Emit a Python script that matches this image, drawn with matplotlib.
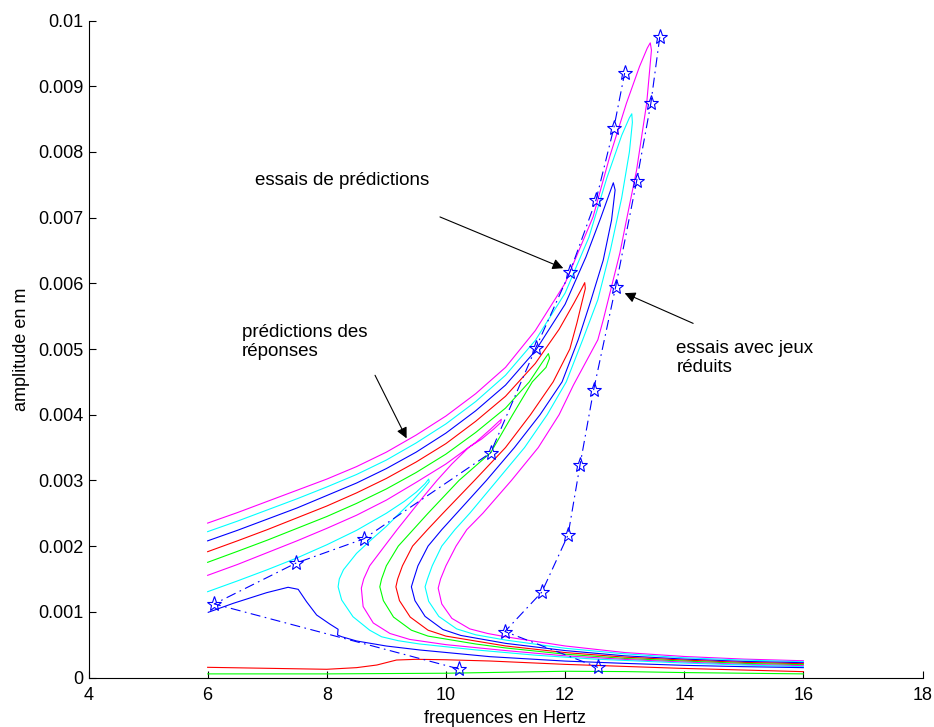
import numpy as np
import matplotlib
matplotlib.use("Agg")
import matplotlib.pyplot as plt

plt.rcParams['font.family'] = ['Liberation Sans', 'DejaVu Sans']

# amplitudes read in mm, converted to m when drawn
# each curve: upper branch -> peak -> unstable branch -> nose -> lower branch
c1_f = [6.0, 6.5, 7.0, 7.5, 8.0, 8.5, 9.0, 9.5, 10.0, 10.5, 11.0, 11.5, 12.0, 12.47, 12.75, 13.03, 13.25, 13.38, 13.43,
        13.45, 13.37, 13.20, 13.03, 12.92, 12.78, 12.64, 12.55, 12.14, 11.90, 11.55, 11.10, 10.62, 10.35, 10.17, 10.0, 9.91, 9.87,
        9.93, 10.1, 10.4, 10.7, 11.0, 12.0, 13.0, 14.0, 15.0, 16.0]
c1_a = [2.35, 2.51, 2.68, 2.85, 3.02, 3.21, 3.43, 3.69, 3.98, 4.32, 4.72, 5.28, 6.00, 7.01, 7.93, 8.74, 9.30, 9.58, 9.66,
        9.55, 8.74, 7.72, 6.96, 6.46, 5.95, 5.44, 5.14, 4.45, 4.0, 3.5, 3.0, 2.5, 2.25, 2.0, 1.7, 1.5, 1.36,
        1.12, 0.90, 0.74, 0.67, 0.62, 0.48, 0.38, 0.32, 0.28, 0.255]

c2_f = [6.0, 6.5, 7.0, 7.5, 8.0, 8.5, 9.0, 9.5, 10.0, 10.5, 11.0, 11.5, 12.0, 12.4, 12.7, 12.95, 13.08, 13.12,
        13.13, 13.08, 12.95, 12.76, 12.55, 12.30, 12.02, 11.70, 11.32, 10.86, 10.40, 10.15, 9.93, 9.77, 9.69, 9.65,
        9.71, 9.88, 10.18, 10.5, 11.0, 12.0, 13.0, 14.0, 15.0, 16.0]
c2_a = [2.22, 2.38, 2.55, 2.72, 2.90, 3.09, 3.31, 3.57, 3.86, 4.20, 4.60, 5.13, 5.85, 6.70, 7.60, 8.25, 8.52, 8.58,
        8.45, 8.0, 7.3, 6.5, 5.75, 5.15, 4.5, 4.0, 3.5, 3.0, 2.5, 2.25, 2.0, 1.7, 1.5, 1.38,
        1.16, 0.93, 0.74, 0.65, 0.57, 0.445, 0.36, 0.30, 0.265, 0.24]

c3_f = [6.0, 6.5, 7.0, 7.5, 8.0, 8.5, 9.0, 9.5, 10.0, 10.5, 11.0, 11.5, 12.0, 12.35, 12.6, 12.75, 12.81,
        12.84, 12.78, 12.64, 12.42, 12.22, 11.95, 11.58, 11.15, 10.68, 10.18, 9.93, 9.70, 9.53, 9.46, 9.42,
        9.48, 9.65, 9.95, 10.25, 11.0, 12.0, 13.0, 14.0, 15.0, 16.0]
c3_a = [2.08, 2.24, 2.41, 2.58, 2.77, 2.96, 3.18, 3.43, 3.72, 4.06, 4.45, 4.97, 5.68, 6.40, 7.0, 7.38, 7.53,
        7.42, 6.96, 6.35, 5.70, 5.14, 4.5, 4.0, 3.5, 3.0, 2.5, 2.25, 2.0, 1.7, 1.5, 1.38,
        1.17, 0.93, 0.73, 0.64, 0.52, 0.41, 0.33, 0.28, 0.245, 0.225]

c4_f = [6.0, 6.5, 7.0, 7.5, 8.0, 8.5, 9.0, 9.5, 10.0, 10.5, 11.0, 11.5, 11.9, 12.15, 12.28, 12.33,
        12.34, 12.28, 12.20, 12.08, 11.80, 11.42, 11.0, 10.48, 9.95, 9.69, 9.44, 9.27, 9.19, 9.16,
        9.22, 9.40, 9.70, 10.0, 11.0, 12.0, 13.0, 14.0, 15.0, 16.0]
c4_a = [1.915, 2.08, 2.25, 2.43, 2.61, 2.81, 3.03, 3.28, 3.56, 3.90, 4.28, 4.78, 5.30, 5.70, 5.92, 6.01,
        5.92, 5.70, 5.40, 5.0, 4.5, 4.0, 3.5, 3.0, 2.5, 2.25, 2.0, 1.7, 1.5, 1.38,
        1.17, 0.92, 0.72, 0.63, 0.48, 0.38, 0.31, 0.265, 0.23, 0.21]

c5_f = [6.0, 6.5, 7.0, 7.5, 8.0, 8.5, 9.0, 9.5, 10.0, 10.5, 11.0, 11.4, 11.62, 11.72,
        11.74, 11.68, 11.45, 11.12, 10.75, 10.22, 9.70, 9.45, 9.20, 9.00, 8.92, 8.89,
        8.95, 9.12, 9.42, 9.70, 10.5, 11.0, 12.0, 13.0, 14.0, 15.0, 16.0]
c5_a = [1.753, 1.92, 2.09, 2.27, 2.45, 2.65, 2.87, 3.12, 3.40, 3.73, 4.10, 4.50, 4.80, 4.93,
        4.86, 4.72, 4.5, 4.0, 3.42, 3.0, 2.5, 2.25, 2.0, 1.7, 1.5, 1.38,
        1.17, 0.92, 0.72, 0.63, 0.51, 0.45, 0.355, 0.29, 0.25, 0.215, 0.195]

c6_f = [6.0, 6.5, 7.0, 7.5, 8.0, 8.5, 9.0, 9.5, 10.0, 10.5, 10.75, 10.88, 10.93,
        10.92, 10.80, 10.60, 10.38, 10.10, 9.85, 9.62, 9.40, 9.18, 8.97, 8.72, 8.62, 8.58,
        8.61, 8.78, 9.06, 9.39, 10.0, 11.0, 12.0, 13.0, 14.0, 15.0, 16.0]
c6_a = [1.555, 1.72, 1.90, 2.08, 2.27, 2.47, 2.70, 2.97, 3.25, 3.58, 3.78, 3.89, 3.93,
        3.88, 3.78, 3.63, 3.5, 3.25, 3.0, 2.75, 2.5, 2.25, 2.0, 1.7, 1.5, 1.36,
        1.08, 0.83, 0.67, 0.58, 0.50, 0.41, 0.33, 0.275, 0.235, 0.20, 0.18]

c7_f = [6.0, 6.5, 7.0, 7.5, 8.0, 8.5, 9.0, 9.3, 9.5, 9.65, 9.71,
        9.72, 9.62, 9.45, 9.22, 9.0, 8.75, 8.5, 8.28, 8.21, 8.19,
        8.25, 8.44, 8.72, 8.92, 9.2, 9.56, 10.5, 11.5, 12.5, 13.0, 14.0, 15.0, 16.0]
c7_a = [1.306, 1.47, 1.64, 1.82, 2.02, 2.24, 2.50, 2.68, 2.82, 2.95, 3.02,
        2.98, 2.87, 2.70, 2.50, 2.30, 2.10, 1.89, 1.64, 1.50, 1.38,
        1.18, 0.925, 0.72, 0.62, 0.56, 0.51, 0.42, 0.34, 0.28, 0.26, 0.22, 0.19, 0.165]

c8_f = [6.01, 6.43, 6.99, 7.35, 7.52, 7.66, 7.83, 8.05, 8.19, 8.18, 8.25, 8.50, 9.0, 9.56, 10.74, 12.0, 13.0, 14.0, 15.0, 16.0]
c8_a = [0.992, 1.129, 1.291, 1.373, 1.342, 1.154, 0.951, 0.814, 0.734, 0.647, 0.621, 0.556, 0.479, 0.419, 0.317, 0.25, 0.215, 0.185, 0.165, 0.15]

c9_f = [6.0, 7.0, 8.0, 8.5, 8.84, 9.17, 9.51, 10.0, 10.74, 12.0, 13.92, 16.0]
c9_a = [0.155, 0.14, 0.125, 0.15, 0.19, 0.266, 0.277, 0.27, 0.251, 0.20, 0.14, 0.089]

c10_f = [6.0, 8.0, 10.0, 11.0, 12.0, 13.0, 14.0, 16.0]
c10_a = [0.055, 0.055, 0.065, 0.08, 0.095, 0.09, 0.075, 0.055]

curve_colors = ['#ff00ff', '#00ffff', '#0000ff', '#ff0000', '#00ff00',
                '#ff00ff', '#00ffff', '#0000ff', '#ff0000', '#00ff00']

# measured points (stars)
essai1_f = [10.22, 6.11, 7.48, 8.62, 10.75, 11.51, 12.08, 12.52, 12.82, 13.0]
essai1_a = [0.13, 1.12, 1.74, 2.11, 3.42, 5.02, 6.17, 7.27, 8.37, 9.20]
essai2_f = [13.59, 13.44, 13.20, 12.85, 12.48, 12.25, 12.05, 11.61, 10.99, 12.55]
essai2_a = [9.75, 8.74, 7.55, 5.95, 4.38, 3.23, 2.17, 1.30, 0.70, 0.155]

x_ticks = [4, 6, 8, 10, 12, 14, 16, 18]
y_ticks = [0, 0.001, 0.002, 0.003, 0.004, 0.005, 0.006, 0.007, 0.008, 0.009, 0.01]
y_labels = ['0', '0.001', '0.002', '0.003', '0.004', '0.005', '0.006', '0.007', '0.008', '0.009', '0.01']

curves = [(c1_f, c1_a), (c2_f, c2_a), (c3_f, c3_a), (c4_f, c4_a), (c5_f, c5_a),
          (c6_f, c6_a), (c7_f, c7_a), (c8_f, c8_a), (c9_f, c9_a), (c10_f, c10_a)]

fig = plt.figure(figsize=(9.34, 7.27), dpi=100)
ax = fig.add_axes([88.5 / 934, 1 - 677.5 / 727, 834 / 934, 657 / 727])

for (f, a), col in zip(curves, curve_colors):
    ax.plot(f, np.array(a) * 1e-3, color=col, lw=0.8)

for f, a in [(essai1_f, essai1_a), (essai2_f, essai2_a)]:
    ax.plot(f, np.array(a) * 1e-3, color='#0000ff', lw=0.8, linestyle=(0, (9, 4, 1.5, 4)),
            marker='*', markersize=11, markerfacecolor='none', markeredgecolor='#0000ff', markeredgewidth=0.8)

arrow = dict(arrowstyle='-|>', color='k', lw=0.8, mutation_scale=16, shrinkA=0, shrinkB=0)
ax.annotate('', xy=(11.97, 6.23e-3), xytext=(9.90, 7.01e-3), arrowprops=arrow)
ax.annotate('', xy=(9.34, 3.64e-3), xytext=(8.81, 4.60e-3), arrowprops=arrow)
ax.annotate('', xy=(13.0, 5.85e-3), xytext=(14.15, 5.39e-3), arrowprops=arrow)

ax.text(6.80, 7.56e-3, 'essais de prédictions', fontsize=13.5, va='center', ha='left')
ax.text(6.575, 5.10e-3, 'prédictions des\nréponses', fontsize=13.5, va='center', ha='left', linespacing=1.15)
ax.text(13.87, 4.86e-3, 'essais avec jeux\nréduits', fontsize=13.5, va='center', ha='left', linespacing=1.15)

ax.set_xlim(4, 18)
ax.set_ylim(0, 0.01)
ax.set_xticks(x_ticks)
ax.set_yticks(y_ticks)
ax.set_yticklabels(y_labels)
ax.tick_params(direction='in', length=5, width=0.8, labelsize=13)
ax.tick_params(axis='x', pad=7)
ax.spines['top'].set_visible(False)
ax.spines['right'].set_visible(False)
ax.set_xlabel('frequences en Hertz', fontsize=13, labelpad=4)
ax.set_ylabel('amplitude en m', fontsize=13, labelpad=6)

fig.savefig('out.png', dpi=100)
